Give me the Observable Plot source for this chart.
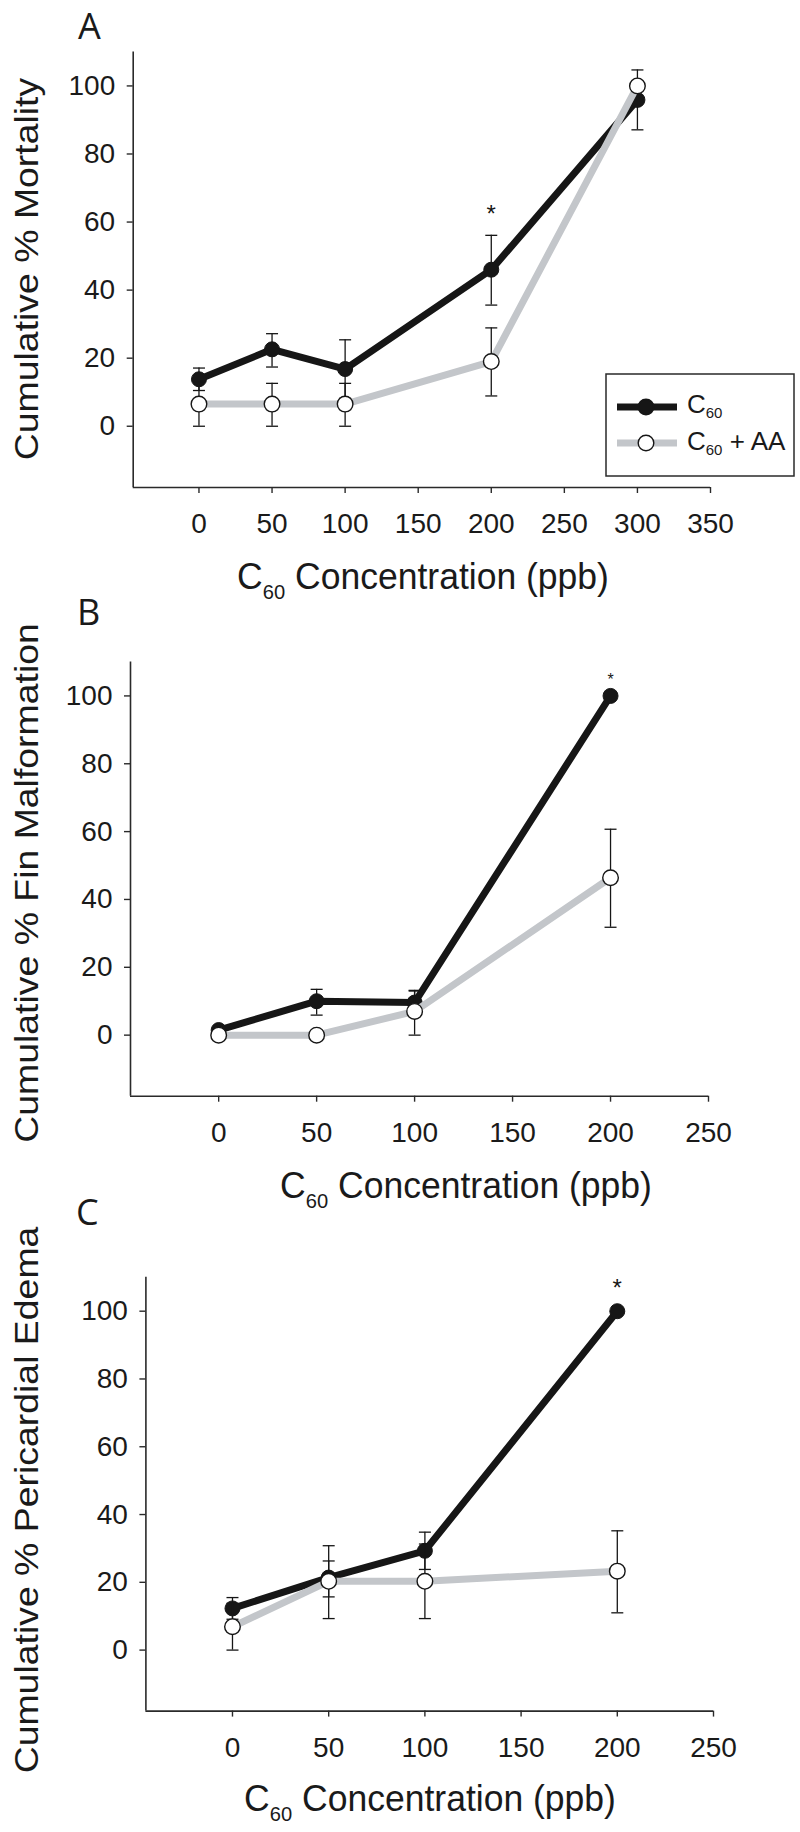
<!DOCTYPE html>
<html>
<head>
<meta charset="utf-8">
<script src="https://cdn.jsdelivr.net/npm/d3@7"></script>
<script src="https://cdn.jsdelivr.net/npm/@observablehq/plot@0.6"></script>
<style>
  html, body { margin: 0; padding: 0; background: #fff; }
  #root { position: relative; width: 800px; height: 1832px; overflow: hidden; background: #fff; }
  .panel { position: absolute; left: 0; }
  .letter { position: absolute; font-family: "Open Sans", sans-serif; font-size: 36px; line-height: 49px; color: #1a1a1a; }
  .ytitle { position: absolute; font-family: "Liberation Sans", Arial, sans-serif; font-size: 34px; line-height: 34px; color: #1a1a1a; white-space: nowrap; transform: translate(-50%, -50%) rotate(-90deg) scaleX(1.1); }
  .xtitle { position: absolute; font-family: "Liberation Sans", Arial, sans-serif; font-size: 37px; line-height: 37px; color: #1a1a1a; white-space: nowrap; transform: translateX(-50%) scaleX(0.96); }
  .xtitle .sub { font-size: 21px; vertical-align: -10px; }
</style>
</head>
<body>
<div id="root"></div>
<script>
// ---------- data ----------
const xTicksA = [0, 50, 100, 150, 200, 250, 300, 350];
const xTicksBC = [0, 50, 100, 150, 200, 250];
const yTicks = [0, 20, 40, 60, 80, 100];

// Panel A: cumulative % mortality
const concA = [0, 50, 100, 200, 300];
const mortC60 = [13.8, 22.6, 16.8, 46.0, 95.9];
const mortC60Hi = [17.1, 27.2, 25.4, 56.1, 104.7];
const mortC60Lo = [10.5, 17.4, 8.2, 35.6, 87.1];
const mortAA = [6.5, 6.5, 6.5, 19.0, 100];
const mortAAHi = [13.0, 12.6, 12.6, 28.9, null];
const mortAALo = [0, 0, 0, 8.9, null];
const starA = [{x: 200, y: 62.3}];

// Panel B: cumulative % fin malformation
const concBC = [0, 50, 100, 200];
const finC60 = [1.5, 10.0, 9.6, 100];
const finC60Hi = [null, 13.5, 13.2, null];
const finC60Lo = [null, 5.9, 6.0, null];
const finAA = [0, 0, 7.0, 46.4];
const finAAHi = [null, null, 13.0, 60.7];
const finAALo = [null, null, 0, 31.8];
const starB = [{x: 200, y: 104.6}];

// Panel C: cumulative % pericardial edema
const edemaC60 = [12.3, 21.4, 29.3, 100];
const edemaC60Hi = [15.5, 26.3, 34.8, null];
const edemaC60Lo = [9.1, 15.7, 23.8, null];
const edemaAA = [6.9, 20.3, 20.3, 23.3];
const edemaAAHi = [13.8, 30.8, 31.3, 35.2];
const edemaAALo = [0, 9.3, 9.3, 11.0];
const starC = [{x: 200, y: 106.8}];

const seriesNames = ["C60", "C60 + AA"];

// ---------- helpers ----------
const BLACK = "#161616";
const GRAY = "#c3c6ca";
const AXIS = "#2a2a2a";

function rows(x, y, hi, lo) {
  return x.map((xv, i) => ({x: xv, y: y[i], hi: hi[i], lo: lo[i]}));
}
const capSymbol = {
  draw(context, size) {
    const r = Math.sqrt(size / Math.PI);
    context.moveTo(-r, 0);
    context.lineTo(r, 0);
  }
};

function errorMarks(data) {
  const e = data.filter(d => d.hi != null && d.lo != null);
  return [
    Plot.ruleX(e, {x: "x", y1: "lo", y2: "hi", stroke: BLACK, strokeWidth: 1.3}),
    Plot.dot(e, {x: "x", y: "hi", symbol: capSymbol, r: 6, stroke: BLACK, strokeWidth: 1.3, fill: "none"}),
    Plot.dot(e, {x: "x", y: "lo", symbol: capSymbol, r: 6, stroke: BLACK, strokeWidth: 1.3, fill: "none"})
  ];
}

function panel(cfg) {
  const c60 = rows(cfg.conc, cfg.c60, cfg.c60Hi, cfg.c60Lo);
  const aa = rows(cfg.conc, cfg.aa, cfg.aaHi, cfg.aaLo);
  const p = Plot.plot({
    width: 800,
    height: cfg.height,
    marginTop: cfg.mt,
    marginBottom: cfg.mb,
    marginLeft: cfg.ml,
    marginRight: cfg.mr,
    style: {fontFamily: "'Liberation Sans', Arial, sans-serif", fontSize: "28px", color: "#1a1a1a", background: "transparent", overflow: "visible"},
    x: {type: "linear", domain: cfg.xDomain},
    y: {type: "linear", domain: [-18, 110]},
    marks: [
      Plot.axisX({ticks: cfg.xTicks, tickSize: 6, tickPadding: 20, fontSize: 28, label: null, stroke: AXIS, strokeWidth: 1.4, tickFormat: d => String(d)}),
      Plot.axisY({ticks: yTicks, tickSize: 6, tickPadding: 12, fontSize: 28, label: null, stroke: AXIS, strokeWidth: 1.4, tickFormat: d => String(d)}),
      Plot.ruleY([-18], {stroke: AXIS, strokeWidth: 1.6}),
      Plot.ruleX([cfg.xDomain[0]], {stroke: AXIS, strokeWidth: 1.6}),
      // C60 series
      Plot.line(c60, {x: "x", y: "y", stroke: BLACK, strokeWidth: 7, strokeLinejoin: "round", strokeLinecap: "round"}),
      ...errorMarks(c60),
      Plot.dot(c60, {x: "x", y: "y", r: 7.5, fill: BLACK, stroke: BLACK, strokeWidth: 1}),
      // C60 + AA series
      Plot.line(aa, {x: "x", y: "y", stroke: GRAY, strokeWidth: 7, strokeLinejoin: "round", strokeLinecap: "butt"}),
      ...errorMarks(aa),
      Plot.dot(aa, {x: "x", y: "y", r: 7.8, fill: "white", stroke: BLACK, strokeWidth: 1.4}),
      Plot.text(cfg.star, {x: "x", y: "y", text: () => "*", fontSize: cfg.starSize, fill: BLACK})
    ]
  });
  p.classList.add("panel");
  p.style.top = cfg.top + "px";
  p.style.position = "absolute";
  return p;
}

const root = document.getElementById("root");

root.appendChild(panel({
  top: 0, height: 600, mt: 51.4, mb: 600 - 487, ml: 132.7, mr: 800 - 710,
  xDomain: [-45, 350], xTicks: xTicksA, conc: concA,
  c60: mortC60, c60Hi: mortC60Hi, c60Lo: mortC60Lo,
  aa: mortAA, aaHi: mortAAHi, aaLo: mortAALo, star: starA, starSize: 24
}));
root.appendChild(panel({
  top: 620, height: 600, mt: 661.5 - 620, mb: 1220 - 1095.7, ml: 130, mr: 800 - 708,
  xDomain: [-45, 250], xTicks: xTicksBC, conc: concBC,
  c60: finC60, c60Hi: finC60Hi, c60Lo: finC60Lo,
  aa: finAA, aaHi: finAAHi, aaLo: finAALo, star: starB, starSize: 16
}));
root.appendChild(panel({
  top: 1230, height: 602, mt: 1276.8 - 1230, mb: 1832 - 1710.6, ml: 145.4, mr: 800 - 713,
  xDomain: [-45, 250], xTicks: xTicksBC, conc: concBC,
  c60: edemaC60, c60Hi: edemaC60Hi, c60Lo: edemaC60Lo,
  aa: edemaAA, aaHi: edemaAAHi, aaLo: edemaAALo, star: starC, starSize: 24
}));

// ---------- text: panel letters, axis titles ----------
function addDiv(cls, html, left, top) {
  const d = document.createElement("div");
  d.className = cls;
  d.innerHTML = html;
  d.style.left = left + "px";
  d.style.top = top + "px";
  root.appendChild(d);
  return d;
}
// Open Sans 36px, line-height 49px (= content height): baseline = top + 38.5
addDiv("letter", "A", 78, 39 - 38.5);
addDiv("letter", "B", 77, 625 - 38.5);
addDiv("letter", "C", 76, 1225 - 38.5);

addDiv("ytitle", "Cumulative % Mortality", 26, 269);
addDiv("ytitle", "Cumulative % Fin Malformation", 26, 883);
addDiv("ytitle", "Cumulative % Pericardial Edema", 26, 1500);

const xt = 'C<span class="sub">60</span> Concentration (ppb)';
// line box top = baseline - ~0.85em
addDiv("xtitle", xt, 423, 589 - 31.3);
addDiv("xtitle", xt, 466, 1198 - 31.3);
addDiv("xtitle", xt, 430, 1811 - 31.3);

// ---------- legend (panel A) ----------
const leg = d3.select(root).append("svg")
  .attr("width", 190).attr("height", 104)
  .style("position", "absolute").style("left", "605px").style("top", "373px")
  .style("font-family", "'Liberation Sans', Arial, sans-serif");
leg.append("rect").attr("x", 1).attr("y", 1).attr("width", 188).attr("height", 102)
  .attr("fill", "white").attr("stroke", AXIS).attr("stroke-width", 1.5);
const legRows = [
  {name: seriesNames[0], line: BLACK, fill: BLACK, cy: 34, base: 40},
  {name: seriesNames[1], line: GRAY, fill: "white", cy: 70, base: 77}
];
legRows.forEach(r => {
  leg.append("line").attr("x1", 12).attr("x2", 72).attr("y1", r.cy).attr("y2", r.cy)
    .attr("stroke", r.line).attr("stroke-width", 7);
  leg.append("circle").attr("cx", 41).attr("cy", r.cy).attr("r", 7.8)
    .attr("fill", r.fill).attr("stroke", BLACK).attr("stroke-width", 1.4);
  const t = leg.append("text").attr("x", 82).attr("y", r.base).attr("font-size", 26).attr("fill", "#1a1a1a");
  t.append("tspan").text("C");
  t.append("tspan").attr("dy", 5).attr("font-size", 15).text("60");
  if (r.name.length > 3) t.append("tspan").attr("dy", -5).text(" + AA");
});
</script>
</body>
</html>
